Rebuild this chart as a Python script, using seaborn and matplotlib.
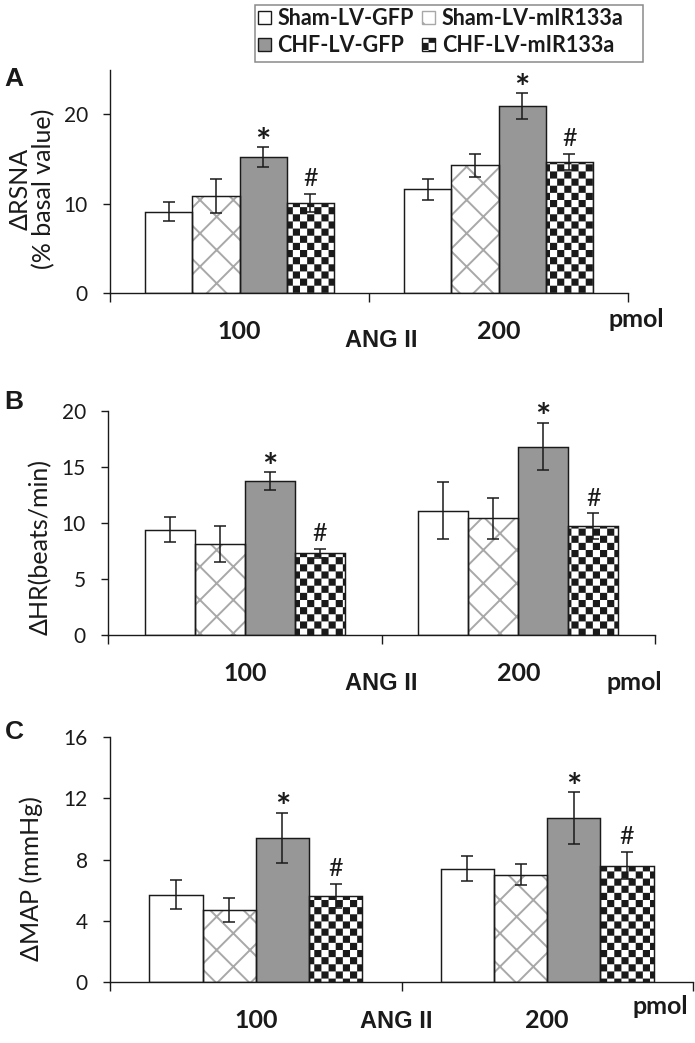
import numpy as np
import pandas as pd
import matplotlib
matplotlib.use('Agg')
import matplotlib.pyplot as plt
import matplotlib.hatch as mhatch
import matplotlib.patches as mpatches
from matplotlib.path import Path
import seaborn as sns

# ---------------- data ----------------
groups = ['Sham-LV-GFP', 'Sham-LV-mIR133a', 'CHF-LV-GFP', 'CHF-LV-mIR133a']
doses = ['100', '200']
marks = ['', '', '*', '#']

rsna_100 = [9.1, 10.9, 15.2, 10.1]
rsna_100_err = [1.1, 1.9, 1.1, 1.0]
rsna_200 = [11.6, 14.3, 20.9, 14.7]
rsna_200_err = [1.2, 1.3, 1.45, 0.9]

hr_100 = [9.4, 8.1, 13.7, 7.3]
hr_100_err = [1.15, 1.6, 0.8, 0.4]
hr_200 = [11.1, 10.4, 16.8, 9.7]
hr_200_err = [2.55, 1.8, 2.1, 1.15]

map_100 = [5.7, 4.7, 9.4, 5.6]
map_100_err = [0.97, 0.77, 1.65, 0.8]
map_200 = [7.4, 7.0, 10.7, 7.6]
map_200_err = [0.8, 0.68, 1.7, 0.9]

ylabels = ['\u0394RSNA\n(% basal value)', '\u0394HR(beats/min)', '\u0394MAP (mmHg)']
yticks_A = [0, 10, 20]
yticks_B = [0, 5, 10, 15, 20]
yticks_C = [0, 4, 8, 12, 16]
panel_letters = ['A', 'B', 'C']
x_title = 'ANG II'
x_unit = 'pmol'

# ---------------- style ----------------
sns.set_style('white')
plt.rcParams['font.family'] = ['Lato', 'DejaVu Sans']
plt.rcParams['hatch.linewidth'] = 1.4
INK = '#1a1a1a'

face_colors = ['white', 'white', '#979797', 'white']
hatch_colors = [INK, '#a8a8a8', INK, INK]
hatches = [None, 'x', None, 'O']


# custom checkerboard hatch (replaces the large-circle 'O' hatch)
class CheckerHatch(mhatch.HatchPatternBase):
    def __init__(self, hatch, density):
        self.n = 14 if 'O' in hatch else 0
        self.num_vertices = (self.n * self.n // 2) * 5

    def set_vertices_and_codes(self, vertices, codes):
        n = self.n
        s = 1.0 / n
        inset = 0.0097
        k = 0
        for i in range(n):
            for j in range(n):
                if (i + j) % 2 == 0:
                    x0, y0 = i * s + inset, j * s + inset
                    x1, y1 = (i + 1) * s - inset, (j + 1) * s - inset
                    vertices[k:k + 5] = [(x0, y0), (x1, y0), (x1, y1), (x0, y1), (x0, y0)]
                    codes[k] = Path.MOVETO
                    codes[k + 1:k + 4] = Path.LINETO
                    codes[k + 4] = Path.CLOSEPOLY
                    k += 5


mhatch._hatch_types[mhatch._hatch_types.index(mhatch.LargeCircles)] = CheckerHatch

W, H = 695, 1043
fig = plt.figure(figsize=(W / 100, H / 100), dpi=100)

panels = [
    dict(v=(rsna_100, rsna_200), e=(rsna_100_err, rsna_200_err), ylim=25, yticks=yticks_A,
         px=(110, 628, 69.5, 293), lab=(-0.106, 0.466), letter=(14, 79),
         cat_off=38.7, ang=(0.549, 47.7), pmol=(1.534, 26.3)),
    dict(v=(hr_100, hr_200), e=(hr_100_err, hr_200_err), ylim=20, yticks=yticks_B,
         px=(108, 655, 410.7, 635), lab=(-0.102, 0.392), letter=(14, 402),
         cat_off=38.3, ang=(0.5, 48.3), pmol=(1.424, 48)),
    dict(v=(map_100, map_200), e=(map_100_err, map_200_err), ylim=16, yticks=yticks_C,
         px=(110, 693, 737.3, 981.7), lab=(-0.115, 0.422), letter=(14, 732),
         cat_off=38.3, ang=(0.4835, 40), pmol=(1.387, 25)),
]

for k, p in enumerate(panels):
    l, r, t, b = p['px']
    ax = fig.add_axes([l / W, 1 - b / H, (r - l) / W, (b - t) / H])
    v100, v200 = p['v']
    e100, e200 = p['e']
    df = pd.DataFrame({'dose': [doses[0]] * 4 + [doses[1]] * 4,
                       'group': groups * 2,
                       'value': v100 + v200})
    pal = dict(zip(groups, face_colors))
    for layer in range(2):
        sns.barplot(data=df, x='dose', y='value', hue='group', order=doses,
                    hue_order=groups, palette=pal, saturation=1, width=0.73,
                    errorbar=None, legend=False, ax=ax)
    fill_c = ax.containers[:4]
    out_c = ax.containers[4:8]
    for i in range(4):
        for bar in fill_c[i]:
            bar.set_hatch(hatches[i])
            bar.set_edgecolor(hatch_colors[i])
            bar.set_linewidth(0)
            bar.set_zorder(2)
        for bar in out_c[i]:
            bar.set_facecolor('none')
            bar.set_edgecolor(INK)
            bar.set_linewidth(1.05)
            bar.set_zorder(3)
    errs = [e100, e200]
    xs, ys, es = [], [], []
    for i in range(4):
        for j, bar in enumerate(fill_c[i]):
            xs.append(bar.get_x() + bar.get_width() / 2)
            ys.append(bar.get_height())
            es.append(errs[j][i])
            m = marks[i]
            if m:
                top = bar.get_height() + errs[j][i]
                if m == '*':
                    ax.annotate(m, (bar.get_x() + bar.get_width() / 2, top),
                                xytext=(0, -4.6), textcoords='offset points',
                                ha='center', va='baseline', fontsize=26,
                                fontweight='bold', color=INK, zorder=6)
                else:
                    ax.annotate(m, (bar.get_x() + bar.get_width() / 2, top),
                                xytext=(0, 5.5), textcoords='offset points',
                                ha='center', va='baseline', fontsize=18,
                                color=INK, zorder=6)
    ax.errorbar(xs, ys, yerr=es, fmt='none', ecolor=INK, elinewidth=1.1,
                capsize=4.3, capthick=1.1, zorder=5)

    ax.set_xlim(-0.5, 1.5)
    ax.set_ylim(0, p['ylim'])
    ax.set_yticks(p['yticks'])
    ax.set_xticks([-0.5, 0.5, 1.5])
    ax.set_xticklabels([])
    ax.set_xlabel('')
    ax.set_ylabel(ylabels[k], fontsize=18, color=INK, linespacing=1.0)
    ax.yaxis.set_label_coords(*p['lab'])
    for s in ['top', 'right']:
        ax.spines[s].set_visible(False)
    for s in ['left', 'bottom']:
        ax.spines[s].set_color(INK)
        ax.spines[s].set_linewidth(1.0)
    ax.tick_params(axis='y', direction='out', length=5, width=1.0, pad=11,
                   labelsize=15, colors=INK, left=True)
    ax.tick_params(axis='x', direction='out', length=6.5, width=1.0, colors=INK,
                   bottom=True)
    ax.patch.set_alpha(0)

    xt = ax.get_xaxis_transform()
    for j, d in enumerate(doses):
        ax.annotate(d, (j, 0), xycoords=xt, xytext=(0, -p['cat_off'] * 0.72),
                    textcoords='offset points', ha='center', va='center',
                    fontsize=18, fontweight='bold', color=INK)
    ax.annotate(x_title, (p['ang'][0], 0), xycoords=xt,
                xytext=(0, -p['ang'][1] * 0.72), textcoords='offset points',
                ha='center', va='center', fontsize=17, fontweight='bold',
                color=INK, family=['Liberation Sans', 'DejaVu Sans'])
    ax.annotate(x_unit, (p['pmol'][0], 0), xycoords=xt,
                xytext=(0, -p['pmol'][1] * 0.72), textcoords='offset points',
                ha='center', va='center', fontsize=18, fontweight='bold',
                color=INK, annotation_clip=False)
    fig.text(p['letter'][0] / W, 1 - p['letter'][1] / H, panel_letters[k],
             ha='center', va='center', fontsize=19, fontweight='bold', color=INK,
             family=['Liberation Sans', 'DejaVu Sans'])

handles = [mpatches.Patch(facecolor=face_colors[i],
                          edgecolor=(hatch_colors[i] if i == 1 else INK),
                          hatch=hatches[i], linewidth=1.0) for i in range(4)]
order = [0, 2, 1, 3]
leg = fig.legend([handles[i] for i in order], [groups[i] for i in order],
                 ncol=2, loc='upper left',
                 bbox_to_anchor=(258 / W, 1 - 8 / H), frameon=False,
                 prop=dict(family=['Lato', 'DejaVu Sans'], weight='bold', size=15.5),
                 handlelength=0.6, handleheight=0.6, handletextpad=0.3,
                 columnspacing=0.4, labelspacing=0.28, borderpad=0,
                 borderaxespad=0)
for t in leg.get_texts():
    t.set_color(INK)
fig.patches.append(mpatches.Rectangle((255 / W, 1 - 62 / H), 388 / W, 57 / H,
                                      transform=fig.transFigure, fill=False,
                                      edgecolor='#8a8a8a', linewidth=1.1))

fig.savefig('out.png', dpi=100)
